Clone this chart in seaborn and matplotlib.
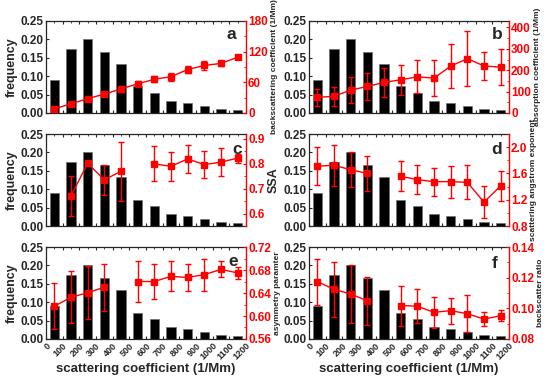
import numpy as np
import matplotlib
matplotlib.use("Agg")
import matplotlib.pyplot as plt
from matplotlib.ticker import AutoMinorLocator, FormatStrFormatter
import seaborn as sns

nan = np.nan

# size bins of scattering coefficient (1/Mm)
bin_edges = [0, 100, 200, 300, 400, 500, 600, 700, 800, 900, 1000, 1100, 1200]
bin_idx = list(range(12))
freq = [0.09, 0.175, 0.2, 0.165, 0.133, 0.072, 0.055, 0.032, 0.027, 0.019, 0.011, 0.008]

bsc = [8, 18, 28, 37, 47, 57, 66, 71, 85, 93, 97, 109]
bsc_err = [3, 3, 4, 4, 5, 5, 6, 8, 6, 8, 5, 3]

abs_coef = [73, 78, 107, 124, 143, 155, 169, 163, 219, 254, 220, 214]
abs_err = [40, 45, 60, 62, 69, 70, 77, 83, 103, 127, 67, 84]

ssa = [nan, 0.671, 0.802, 0.736, 0.77, nan, 0.80, 0.79, 0.82, 0.797, 0.807, 0.823]
ssa_err = [nan, 0.079, 0.005, 0.06, 0.118, nan, 0.07, 0.057, 0.056, 0.055, 0.056, 0.018]

sae = [1.71, 1.725, 1.657, 1.60, nan, 1.558, 1.506, 1.475, 1.475, 1.465, 1.164, 1.41]
sae_err = [0.29, 0.31, 0.27, 0.27, nan, 0.23, 0.22, 0.215, 0.245, 0.26, 0.24, 0.23]

asym = [0.617, 0.6325, 0.6405, 0.65, nan, 0.66, 0.66, 0.669, 0.667, 0.672, 0.681, 0.675]
asym_err = [0.04, 0.045, 0.046, 0.041, nan, 0.035, 0.031, 0.026, 0.024, 0.028, 0.014, 0.01]

bratio = [0.1175, 0.1124, 0.1093, 0.105, nan, 0.1018, 0.1014, 0.0974, 0.0985, 0.0965, 0.093, 0.0952]
bratio_err = [0.015, 0.018, 0.019, 0.0157, nan, 0.013, 0.011, 0.010, 0.0085, 0.012, 0.0048, 0.0036]

panels = [
    ("a", bsc, bsc_err, "backscattering coefficient (1/Mm)", (0, 180), [0, 60, 120, 180], "%d"),
    ("b", abs_coef, abs_err, "absorption coefficient (1/Mm)", (0, 430), [0, 100, 200, 300, 400], "%d"),
    ("c", ssa, ssa_err, "SSA", (0.55, 0.92), [0.6, 0.7, 0.8, 0.9], "%.1f"),
    ("d", sae, sae_err, "scattering angstrom exponent", (0.8, 2.2), [0.8, 1.2, 1.6, 2.0], "%.1f"),
    ("e", asym, asym_err, "asymmetry paramter", (0.56, 0.72), [0.56, 0.60, 0.64, 0.68, 0.72], "%.2f"),
    ("f", bratio, bratio_err, "backscatter ratio", (0.08, 0.14), [0.08, 0.10, 0.12, 0.14], "%.2f"),
]
letter_pos = {"a": (0.925, 0.85), "b": (0.94, 0.85), "c": (0.955, 0.83),
              "d": (0.94, 0.83), "e": (0.935, 0.84), "f": (0.93, 0.82)}

sns.set_style("ticks")
plt.rcParams["font.family"] = ["Liberation Sans", "DejaVu Sans"]
plt.rcParams["font.weight"] = "bold"
plt.rcParams["axes.labelweight"] = "bold"

fig = plt.figure(figsize=(5.5, 3.77), dpi=100)

lefts = [0.0836, 0.5618]
bottoms = [0.7003, 0.4005, 0.1008]
w, h = 0.3636, 0.244

for k, (letter, vals, errs, rlabel, rlim, rticks, fmt) in enumerate(panels):
    row, col = divmod(k, 2)
    ax = fig.add_axes([lefts[col], bottoms[row], w, h])

    sns.barplot(x=bin_idx, y=freq, color="black", saturation=1, width=0.55,
                edgecolor="#707070", linewidth=0.5, ax=ax)
    ax.set_xlim(-0.5, 11.5)
    ax.set_ylim(0, 0.25)
    ax.set_yticks([0, 0.05, 0.10, 0.15, 0.20, 0.25])
    ax.yaxis.set_major_formatter(FormatStrFormatter("%.2f"))
    ax.set_xticks(np.arange(13) - 0.5)
    ax.set_xticks(np.arange(12), minor=True)
    ax.tick_params(axis="both", which="major", direction="in", top=True,
                   length=2.5, width=0.8, labelsize=8.5, pad=1.5)
    ax.tick_params(axis="x", which="minor", direction="in", top=True,
                   length=1.5, width=0.6)
    for s in ["left", "top", "bottom"]:
        ax.spines[s].set_linewidth(0.9)
    ax.spines["right"].set_visible(False)

    if row == 2:
        ax.set_xticklabels([str(v) for v in bin_edges], rotation=45, ha="right",
                           rotation_mode="anchor", fontsize=6.5)
        ax.set_xlabel("scattering coefficient (1/Mm)", fontsize=9.5, labelpad=1)
    else:
        ax.set_xticklabels([])
        ax.set_xlabel("")
    if col == 0:
        ax.set_ylabel("frequency", fontsize=9, labelpad=2)
    else:
        ax.set_ylabel("")

    ax2 = ax.twinx()
    ax2.errorbar(bin_idx, vals, yerr=errs, color="red", marker="s", ms=4,
                 lw=1, elinewidth=1, capsize=2, capthick=1)
    ax2.set_ylim(*rlim)
    ax2.set_yticks(rticks)
    ax2.yaxis.set_major_formatter(FormatStrFormatter(fmt))
    ax2.yaxis.set_minor_locator(AutoMinorLocator(2))
    ax2.tick_params(axis="y", which="major", colors="red", direction="in",
                    length=2.5, width=0.8, labelsize=8.5, pad=1.5)
    ax2.tick_params(axis="y", which="minor", colors="red", direction="in",
                    length=1.5, width=0.6)
    ax2.spines["right"].set_color("red")
    ax2.spines["right"].set_linewidth(1.0)
    for s in ["left", "top", "bottom"]:
        ax2.spines[s].set_visible(False)
    if rlabel == "SSA":
        ax2.set_ylabel(rlabel, fontsize=9, labelpad=2)
    else:
        ax2.set_ylabel(rlabel, fontsize=6, labelpad=2)

    lx, ly = letter_pos[letter]
    ax.text(lx, ly, letter, transform=ax.transAxes, fontsize=12.5,
            fontweight="bold", ha="center", va="center")

fig.savefig("out.png", dpi=100)
